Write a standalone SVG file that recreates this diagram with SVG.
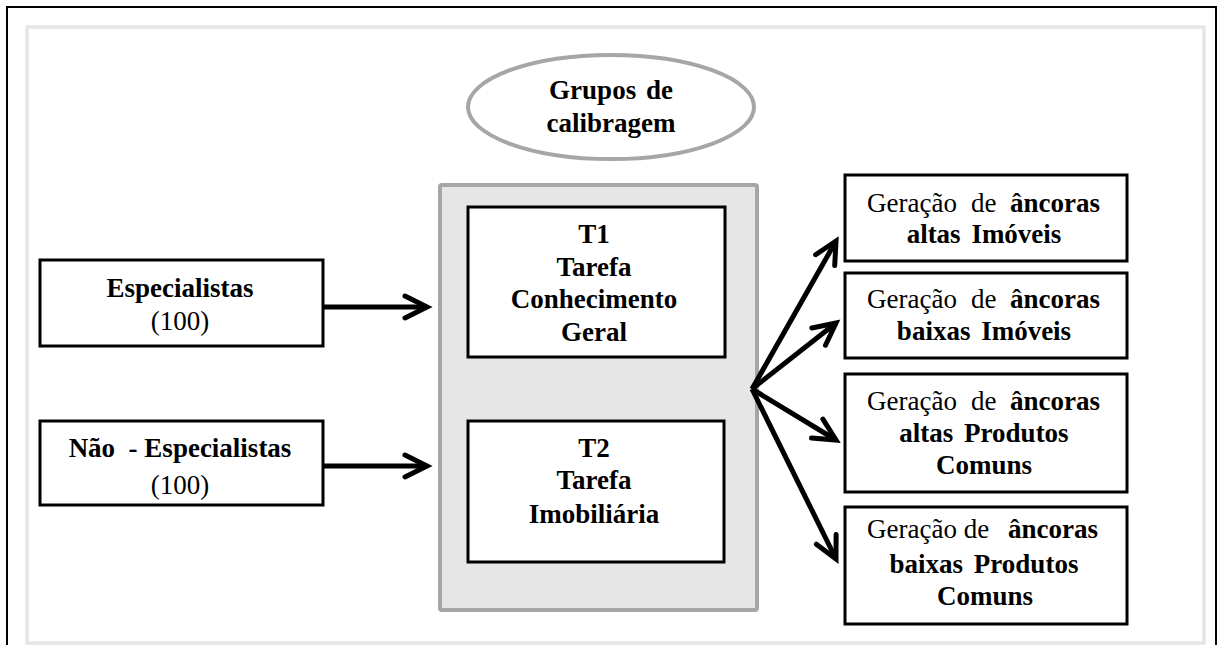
<svg xmlns="http://www.w3.org/2000/svg" width="1219" height="645" viewBox="0 0 1219 645">
<style>
text{font-family:"Liberation Serif","Times New Roman",serif;font-size:27px;fill:#000;text-anchor:middle}
.b{font-weight:bold}
.r{font-weight:normal}
.s{text-anchor:start}
.e{text-anchor:end}
.box{fill:#fff;stroke:#000;stroke-width:3}
.conn{stroke:#000;stroke-width:5;fill:none;marker-end:url(#open)}
</style>
<defs>
<marker id="open" markerUnits="userSpaceOnUse" viewBox="-30 -16 36 32" markerWidth="36" markerHeight="32" refX="0" refY="0" orient="auto" overflow="visible">
<path d="M-22,-11 L0,0 L-22,11" fill="none" stroke="#000" stroke-width="5" stroke-linecap="round"/>
</marker>
</defs>
<rect x="7" y="7" width="1209" height="700" fill="#fff" stroke="#000" stroke-width="2"/>
<rect x="27" y="27" width="1177" height="616" fill="#fff" stroke="#e6e6e6" stroke-width="3.5"/>

<g id="grupos">
<ellipse cx="611" cy="107" rx="143" ry="52" fill="#fff" stroke="#a6a6a6" stroke-width="4"/>
<text class="b" x="611" y="99" word-spacing="3">Grupos de</text>
<text class="b" x="611" y="132">calibragem</text>
</g>

<g id="central">
<rect x="440" y="185" width="317" height="425" rx="2" fill="#e6e6e6" stroke="#a6a6a6" stroke-width="4"/>
</g>

<g id="t1">
<rect class="box" x="468" y="207" width="257" height="150"/>
<text class="b" x="594" y="243">T1</text>
<text class="b" x="594" y="276">Tarefa</text>
<text class="b" x="594" y="308">Conhecimento</text>
<text class="b" x="594" y="341">Geral</text>
</g>

<g id="t2">
<rect class="box" x="468" y="421" width="256" height="141"/>
<text class="b" x="594" y="457">T2</text>
<text class="b" x="594" y="489">Tarefa</text>
<text class="b" x="594" y="523">Imobiliária</text>
</g>

<g id="especialistas">
<rect class="box" x="40" y="260" width="283" height="86"/>
<text class="b" x="180" y="297">Especialistas</text>
<text class="r" x="180" y="330">(100)</text>
</g>

<g id="nao-especialistas">
<rect class="box" x="40" y="421" width="283" height="84"/>
<text class="b" x="180" y="457" style="white-space:pre">Não  - Especialistas</text>
<text class="r" x="180" y="494">(100)</text>
</g>

<g id="r1">
<rect class="box" x="845" y="175" width="282" height="86"/>
<text class="r s" x="867" y="212">Geração</text>
<text class="r s" x="971" y="212">de</text>
<text class="b e" x="1100" y="212">âncoras</text>
<text class="b" x="984" y="243" word-spacing="4">altas Imóveis</text>
</g>

<g id="r2">
<rect class="box" x="845" y="273" width="282" height="85"/>
<text class="r s" x="867" y="308">Geração</text>
<text class="r s" x="971" y="308">de</text>
<text class="b e" x="1100" y="308">âncoras</text>
<text class="b" x="984" y="340" word-spacing="4">baixas Imóveis</text>
</g>

<g id="r3">
<rect class="box" x="845" y="374" width="282" height="118"/>
<text class="r s" x="867" y="410">Geração</text>
<text class="r s" x="971" y="410">de</text>
<text class="b e" x="1100" y="410">âncoras</text>
<text class="b" x="984" y="442" word-spacing="4">altas Produtos</text>
<text class="b" x="984" y="474">Comuns</text>
</g>

<g id="r4">
<rect class="box" x="845" y="507" width="282" height="117"/>
<text class="r s" x="867" y="538">Geração de</text>
<text class="b e" x="1098" y="538">âncoras</text>
<text class="b" x="984" y="573" word-spacing="4">baixas Produtos</text>
<text class="b" x="985" y="605">Comuns</text>
</g>

<g id="connectors">
<line class="conn" x1="323" y1="307" x2="427" y2="307"/>
<line class="conn" x1="323" y1="466" x2="427" y2="466"/>
<line class="conn" x1="752" y1="389" x2="836" y2="241"/>
<line class="conn" x1="752" y1="389" x2="836" y2="323"/>
<line class="conn" x1="752" y1="389" x2="836" y2="440"/>
<line class="conn" x1="752" y1="389" x2="836" y2="559"/>
</g>
</svg>
